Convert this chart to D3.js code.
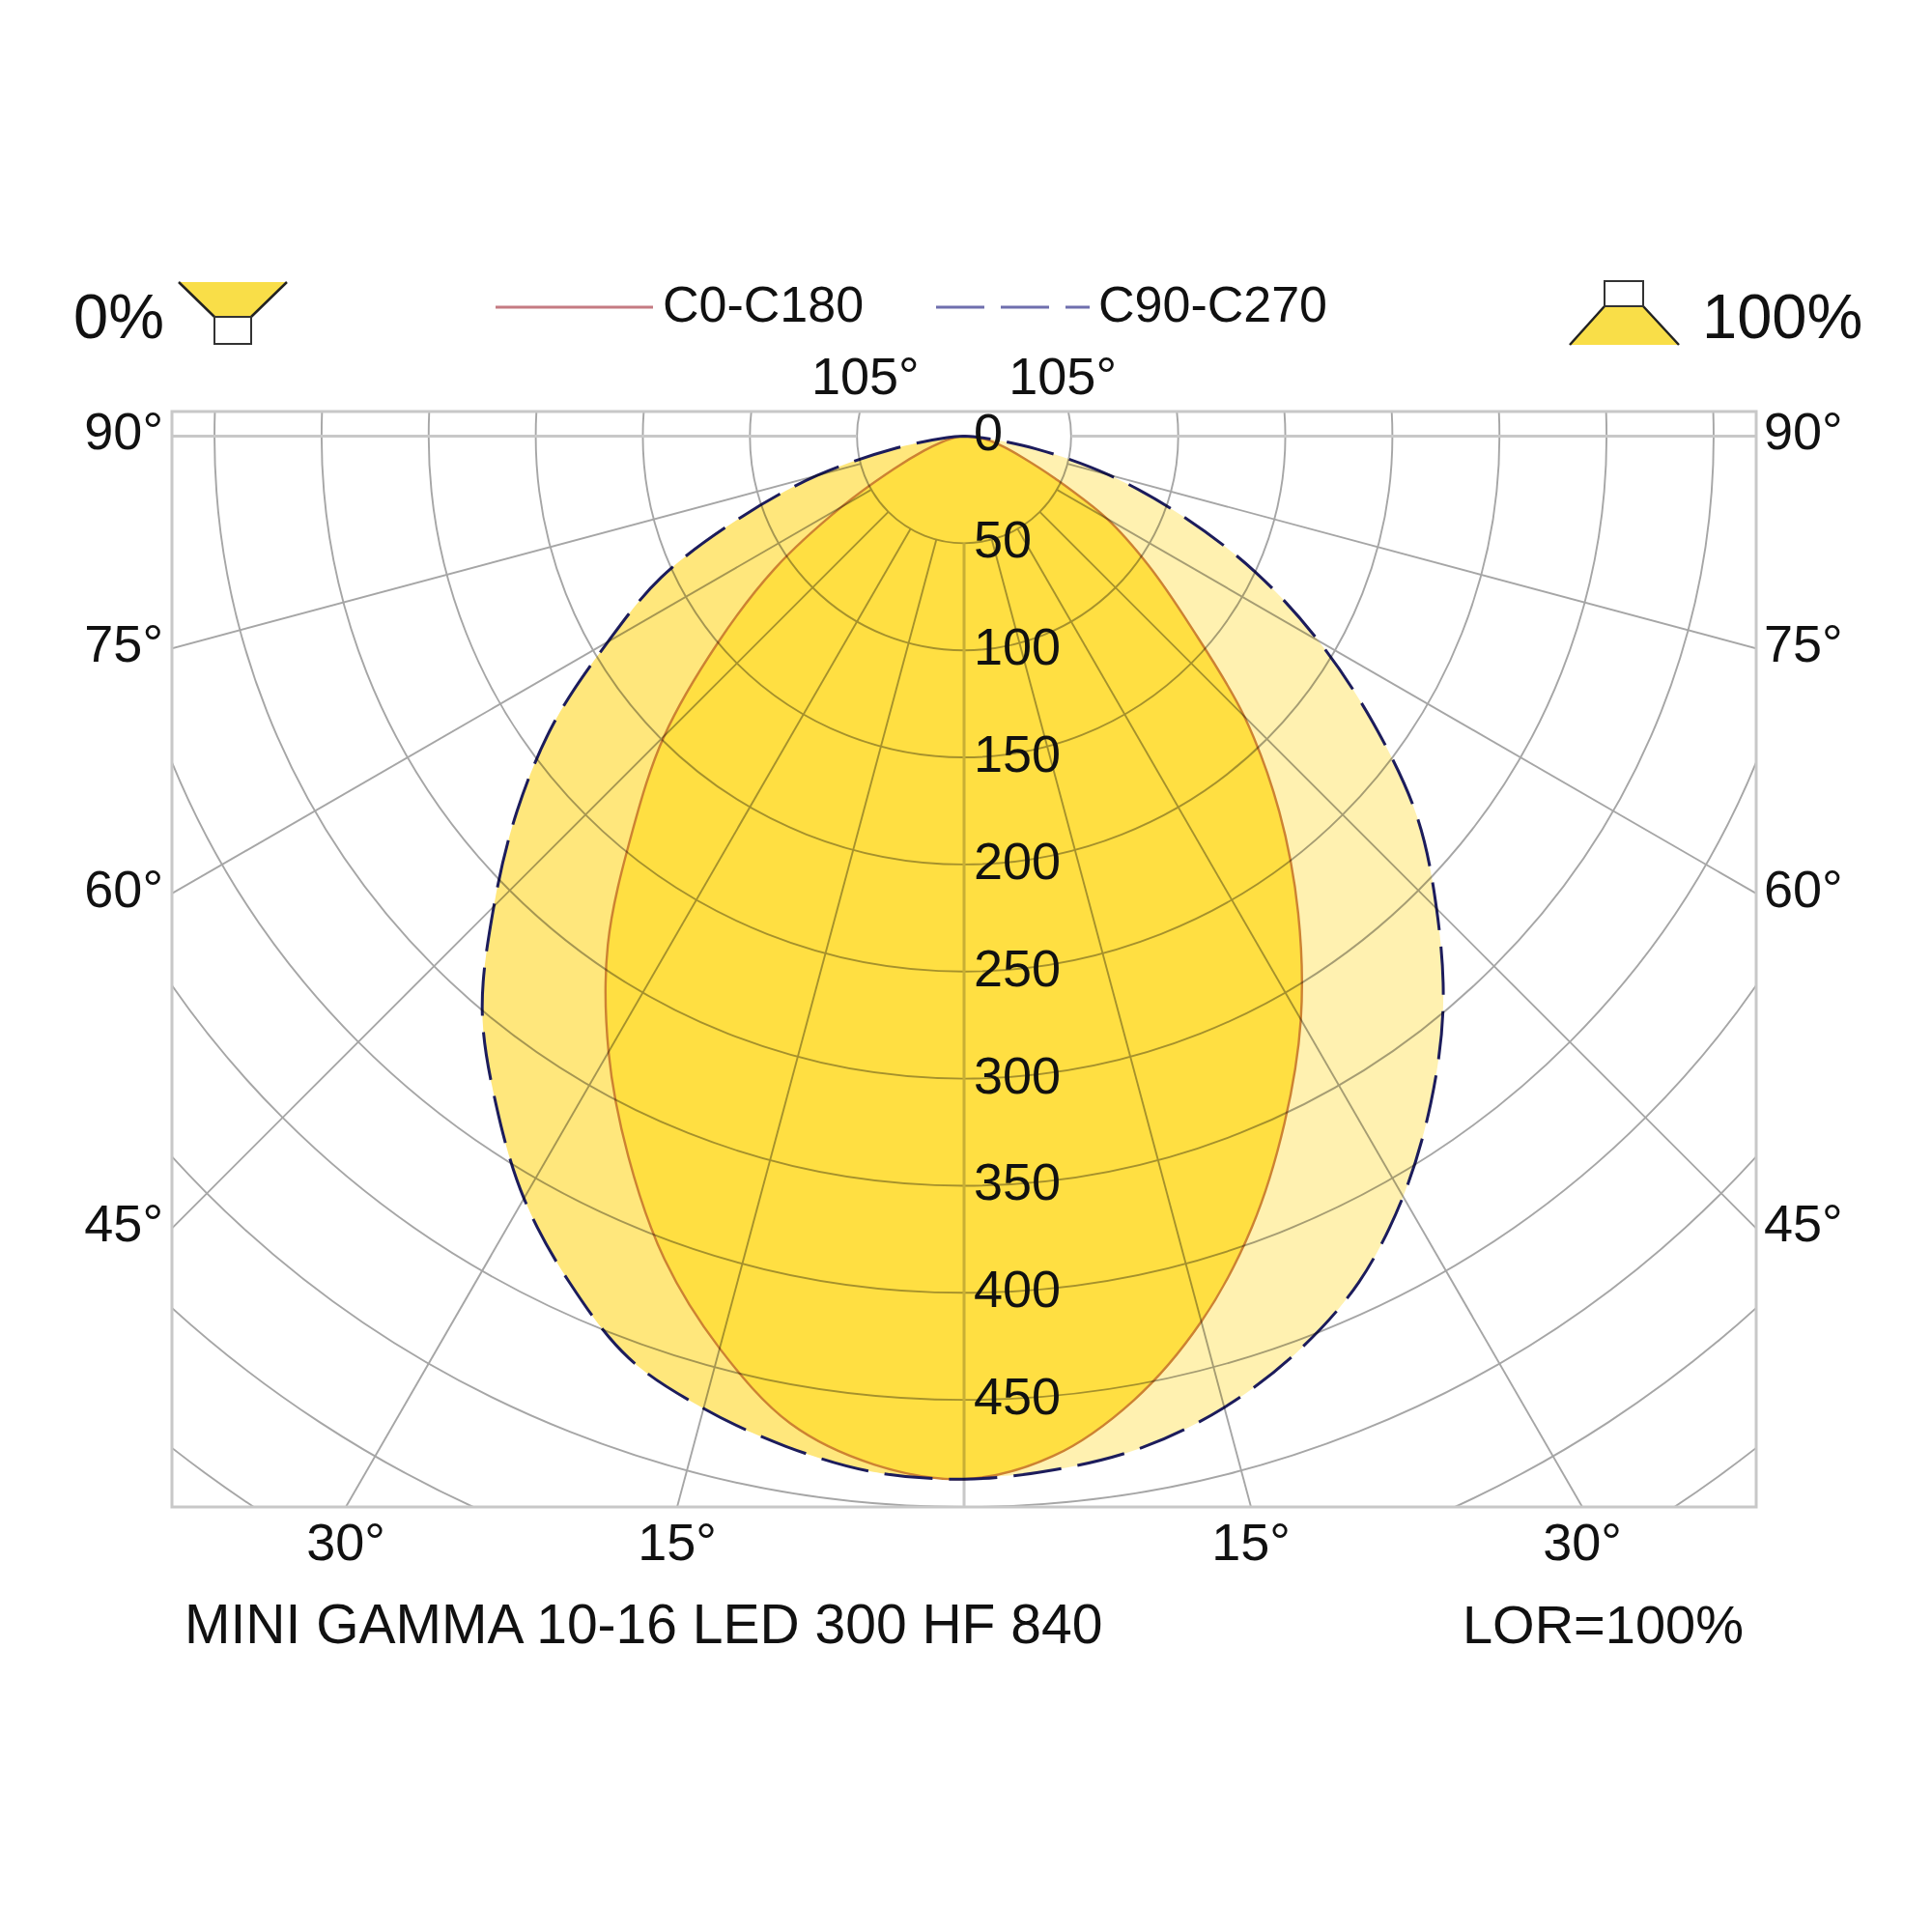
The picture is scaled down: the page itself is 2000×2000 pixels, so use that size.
<!DOCTYPE html>
<html>
<head>
<meta charset="utf-8">
<script src="https://cdn.jsdelivr.net/npm/d3@7"></script>
<style>
  body { margin: 0; background: #fff; }
  text { font-family: "Liberation Sans", Arial, sans-serif; fill: #111; }
</style>
</head>
<body>
<script>
// gamma angles (deg from nadir) and luminous intensity in cd per C-plane
var gammaAngles = [0, 5, 10, 15, 20, 25, 30, 35, 40, 45, 50, 55, 60, 65, 70, 75, 80, 85, 90];
var c0Values   = [487, 478, 457, 428, 393, 354, 314.5, 272, 229, 185, 138, 105, 77, 47, 29, 19, 12, 5, 0];
var c180Values = [487, 482, 468, 441, 409, 371, 332, 290, 241, 198, 150, 108, 66, 36, 20, 11, 5, 2, 0];
var c90Values  = [487, 484.5, 479.5, 469.5, 455, 436, 410, 380, 348, 312, 276, 233, 191, 150, 108, 70, 34, 8, 0];
var c270Values = [487, 485.5, 479, 470, 458, 436, 411, 381, 350, 310.5, 272.5, 234, 192, 156, 111, 71, 32, 8, 0];

var ringValues = [50, 100, 150, 200, 250, 300, 350, 400, 450, 500, 550, 600];
var ringLabels = [0, 50, 100, 150, 200, 250, 300, 350, 400, 450];
var spokeAngles = [0, 15, 30, 45, 60, 75, 90, 105];
var sideLabels = [45, 60, 75, 90];
var bottomLabels = [15, 30];
var topLabels = [105];
var legendNames = ['C0-C180', 'C90-C270'];
var titleText = 'MINI GAMMA 10-16 LED 300 HF 840';
var lorText = 'LOR=100%';
var downText = '0%',
    upText = '100%';

var width = 2000,
    height = 2000;
var frame = { left: 178, right: 1818, top: 426, bottom: 1560 };

var x = d3.scaleLinear().domain([-370, 370]).range([frame.left, frame.right]);
var y = d3.scaleLinear().domain([-11.5, 500]).range([frame.top, frame.bottom]);
var r = d3.scaleLinear().domain([0, 500]).range([0, y(500) - y(0)]);
var cx = x(0),
    cy = y(0);
var rad = Math.PI / 180;

var svg = d3
    .select('body')
    .append('svg')
    .attr('width', width)
    .attr('height', height);

svg.append('defs')
    .append('clipPath')
    .attr('id', 'frameClip')
    .append('rect')
    .attr('x', frame.left)
    .attr('y', frame.top)
    .attr('width', frame.right - frame.left)
    .attr('height', frame.bottom - frame.top);

// build point lists: left side runs 90 -> 0, right side 0 -> 90
function leftSide(values) {
    return gammaAngles.map(function (g, i) {
        return { a: Math.PI + g * rad, v: values[i] };
    }).reverse();
}
function rightSide(values) {
    return gammaAngles.map(function (g, i) {
        return { a: Math.PI - g * rad, v: values[i] };
    });
}

var radial = d3
    .lineRadial()
    .angle(function (d) { return d.a; })
    .radius(function (d) { return r(d.v); })
    .curve(d3.curveCatmullRom.alpha(0.5));

var plot = svg.append('g').attr('transform', 'translate(' + cx + ',' + cy + ')');

// fills
plot.append('path').attr('d', radial(leftSide(c270Values))).attr('fill', '#ffe77c');
plot.append('path').attr('d', radial(rightSide(c90Values))).attr('fill', '#fff1b0');
var c0c180 = leftSide(c180Values).concat(rightSide(c0Values).slice(1));
var c90c270 = leftSide(c270Values).concat(rightSide(c90Values).slice(1));
plot.append('path').attr('d', radial(c0c180)).attr('fill', '#ffdf42');

// grid, multiplied over the fills
var grid = svg
    .append('g')
    .attr('clip-path', 'url(#frameClip)')
    .style('mix-blend-mode', 'multiply');

grid.selectAll('circle')
    .data(ringValues)
    .enter()
    .append('circle')
    .attr('cx', cx)
    .attr('cy', cy)
    .attr('r', function (d) { return r(d); })
    .attr('fill', 'none')
    .attr('stroke', '#a6a6a6')
    .attr('stroke-width', 1.9);

var spokes = [];
spokeAngles.forEach(function (a) {
    spokes.push({ a: a, s: 1 });
    if (a > 0) spokes.push({ a: a, s: -1 });
});
grid.selectAll('line')
    .data(spokes)
    .enter()
    .append('line')
    .attr('x1', function (d) { return cx + d.s * r(50) * Math.sin(d.a * rad); })
    .attr('y1', function (d) { return cy + r(50) * Math.cos(d.a * rad); })
    .attr('x2', function (d) { return cx + d.s * r(700) * Math.sin(d.a * rad); })
    .attr('y2', function (d) { return cy + r(700) * Math.cos(d.a * rad); })
    .attr('stroke', function (d) { return d.a % 90 === 0 ? '#c8c8c8' : '#a6a6a6'; })
    .attr('stroke-width', function (d) { return d.a % 90 === 0 ? 3 : 1.9; });

// curves
plot.append('path')
    .attr('d', radial(c0c180))
    .attr('fill', 'none')
    .attr('stroke', '#cd8232')
    .attr('stroke-width', 2.4);
plot.append('path')
    .attr('d', radial(c90c270))
    .attr('fill', 'none')
    .attr('stroke', '#1c1c5c')
    .attr('stroke-width', 3)
    .attr('stroke-dasharray', '50,17');

// frame
svg.append('rect')
    .attr('x', frame.left)
    .attr('y', frame.top)
    .attr('width', frame.right - frame.left)
    .attr('height', frame.bottom - frame.top)
    .attr('fill', 'none')
    .attr('stroke', '#c8c8c8')
    .attr('stroke-width', 3);

// intensity labels
svg.append('g')
    .selectAll('text')
    .data(ringLabels)
    .enter()
    .append('text')
    .attr('x', cx + 10)
    .attr('y', function (d) { return cy + r(d) + 15; })
    .style('font-size', '54px')
    .text(function (d) { return d; });

// angle labels
var angleG = svg.append('g').style('font-size', '54px');
sideLabels.forEach(function (a) {
    var t = (cx - frame.left) / Math.sin(a * rad);
    var yy = cy + t * Math.cos(a * rad);
    angleG.append('text').attr('x', frame.left - 9).attr('y', yy + 14)
        .attr('text-anchor', 'end').text(a + '°');
    angleG.append('text').attr('x', frame.right + 8).attr('y', yy + 14)
        .attr('text-anchor', 'start').text(a + '°');
});
bottomLabels.forEach(function (a) {
    var t = (frame.bottom - cy) / Math.cos(a * rad);
    var dx = t * Math.sin(a * rad);
    [-1, 1].forEach(function (s) {
        angleG.append('text').attr('x', cx + s * dx).attr('y', 1615)
            .attr('text-anchor', 'middle').text(a + '°');
    });
});
topLabels.forEach(function (a) {
    var t = (frame.top - cy) / Math.cos(a * rad);
    var dx = t * Math.sin(a * rad) + 7;
    [-1, 1].forEach(function (s) {
        angleG.append('text').attr('x', cx + s * dx).attr('y', 408)
            .attr('text-anchor', 'middle').text(a + '°');
    });
});

// legend
var legend = svg.append('g');
legend.append('line').attr('x1', 513).attr('x2', 676).attr('y1', 318).attr('y2', 318)
    .attr('stroke', '#c57b82').attr('stroke-width', 3);
legend.append('text').attr('x', 686).attr('y', 333).style('font-size', '52px').text(legendNames[0]);
legend.append('line').attr('x1', 969).attr('x2', 1128).attr('y1', 318).attr('y2', 318)
    .attr('stroke', '#6f6fae').attr('stroke-width', 3).attr('stroke-dasharray', '50,17');
legend.append('text').attr('x', 1137).attr('y', 333).style('font-size', '52px').text(legendNames[1]);

// downward / upward light icons
legend.append('text').attr('x', 76).attr('y', 350).style('font-size', '65px').text(downText);
legend.append('path').attr('d', 'M185,292L297,292L260,328L222,328Z').attr('fill', '#f9de48');
legend.append('path').attr('d', 'M185,292L222,328M297,292L260,328')
    .attr('stroke', '#222').attr('stroke-width', 2.5).attr('fill', 'none');
legend.append('rect').attr('x', 222).attr('y', 328).attr('width', 38).attr('height', 28)
    .attr('fill', '#fff').attr('stroke', '#333').attr('stroke-width', 2);

legend.append('text').attr('x', 1762).attr('y', 350).style('font-size', '65px').text(upText);
legend.append('path').attr('d', 'M1661,317L1701,317L1738,357L1625,357Z').attr('fill', '#f9de48');
legend.append('path').attr('d', 'M1661,317L1625,357M1701,317L1738,357')
    .attr('stroke', '#222').attr('stroke-width', 2.5).attr('fill', 'none');
legend.append('rect').attr('x', 1661).attr('y', 291).attr('width', 40).attr('height', 26)
    .attr('fill', '#fff').attr('stroke', '#333').attr('stroke-width', 2);

// footer
svg.append('text').attr('x', 191).attr('y', 1701).style('font-size', '57px').text(titleText);
svg.append('text').attr('x', 1805).attr('y', 1701).attr('text-anchor', 'end')
    .style('font-size', '56px').text(lorText);
</script>
</body>
</html>
